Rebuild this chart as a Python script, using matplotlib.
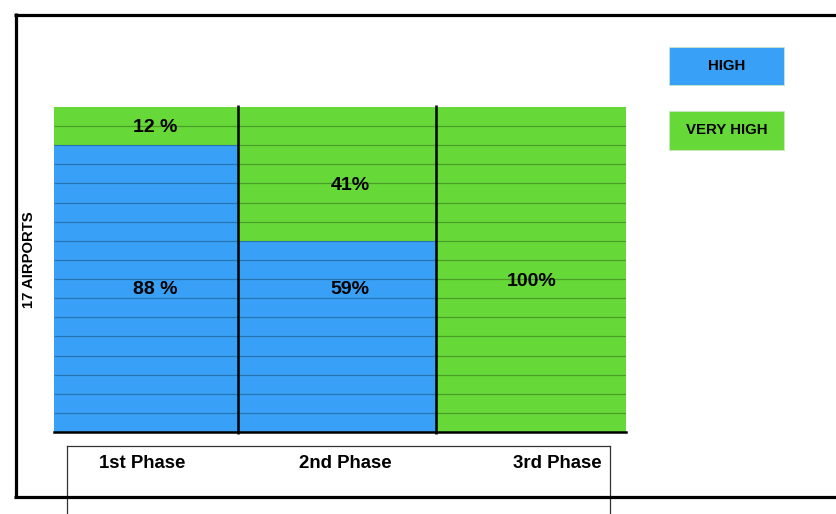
import matplotlib
matplotlib.use("Agg")
import matplotlib.pyplot as plt
from matplotlib.patches import Rectangle
from matplotlib.lines import Line2D

plt.rcParams['font.family'] = ['Liberation Sans', 'DejaVu Sans']

# ---------------- data ----------------
categories = ["1st Phase", "2nd Phase", "3rd Phase"]
total_airports = 17
high = [15, 10, 0]          # airports rated HIGH
very_high = [2, 7, 17]      # airports rated VERY HIGH
series_names = ["HIGH", "VERY HIGH"]
y_label = "17 AIRPORTS"

# ---------------- style / layout ----------------
W, H = 836, 514
BLUE = "#38a0f6"
GREEN = "#66d938"
col_widths = [184, 198, 190]          # column widths (axes px units)
pct_sep = [" ", "", ""]               # spacing before % sign per column
label_dx = [9, 13, 1]                 # label x offset from column centre
high_label_y = [7.43, 7.43, None]     # label heights (data units)
vh_label_y = [15.95, 12.92, 7.85]

fig = plt.figure(figsize=(W / 100, H / 100), dpi=100)

def fx(px):
    return px / W

def fy(py):
    return 1 - py / H

ax_left, ax_top, ax_right, ax_bottom = 54, 107, 626, 432
ax = fig.add_axes([fx(ax_left), fy(ax_bottom), fx(ax_right - ax_left), (ax_bottom - ax_top) / H])

lefts = [sum(col_widths[:i]) for i in range(len(col_widths))]
ax.bar(lefts, high, width=col_widths, align='edge', color=BLUE, edgecolor='none', zorder=1)
ax.bar(lefts, very_high, width=col_widths, bottom=high, align='edge', color=GREEN,
       edgecolor='none', zorder=1)

ax.set_xlim(0, sum(col_widths))
ax.set_ylim(0, total_airports)

# row separators (one row per airport)
ax.hlines(range(1, total_airports), 0, sum(col_widths), color='black', alpha=0.27,
          lw=0.9, zorder=2)
# column dividers
for e in lefts[1:]:
    ax.vlines(e, -0.1, total_airports + 0.1, color='black', lw=1.8, zorder=3, clip_on=False)
ax.axhline(0, color='black', lw=1.8, zorder=3, clip_on=False)

for s in ax.spines.values():
    s.set_visible(False)
ax.set_yticks([])

# category tick labels
centers = [l + w / 2 for l, w in zip(lefts, col_widths)]
tick_pos = [c + d for c, d in zip(centers, [-4, 8, 26])]
ax.set_xticks(tick_pos, categories, fontsize=13.4, fontweight='bold')
ax.tick_params(axis='x', length=0, pad=16.5)

# percentage labels
for i in range(len(categories)):
    cx = centers[i] + label_dx[i]
    if high[i] > 0:
        p = round(high[i] / total_airports * 100)
        ax.text(cx, high_label_y[i], f"{p}{pct_sep[i]}%", ha='center', va='center',
                fontsize=14, fontweight='bold', zorder=4)
    if very_high[i] > 0:
        p = round(very_high[i] / total_airports * 100)
        ax.text(cx, vh_label_y[i], f"{p}{pct_sep[i]}%", ha='center', va='center',
                fontsize=14, fontweight='bold', zorder=4)

# legend boxes
for name, color, (top, bot) in zip(series_names, [BLUE, GREEN], [(47, 85), (111, 150)]):
    fig.patches.append(Rectangle((fx(669), fy(bot)), fx(784 - 669), (bot - top) / H,
                                 transform=fig.transFigure, facecolor=color,
                                 edgecolor='#c8e8c0', lw=0.6))
    fig.text(fx(726.5), fy((top + bot) / 2), name, ha='center', va='center',
             fontsize=10.8, fontweight='bold')

# y label
fig.text(fx(29), fy(260), y_label, rotation=90, ha='center', va='center',
         fontsize=10.7, fontweight='bold')

# category label box
for xs, ys in [([67, 67], [446, 520]), ([610, 610], [446, 520]), ([67, 610], [446, 446])]:
    fig.add_artist(Line2D([fx(x) for x in xs], [fy(y) for y in ys], transform=fig.transFigure,
                          color='#333333', lw=0.9))

# outer frame
for xs, ys in [([14, 840], [14.5, 14.5]), ([15.5, 15.5], [13, 498]), ([14, 840], [497, 497])]:
    fig.add_artist(Line2D([fx(x) for x in xs], [fy(y) for y in ys], transform=fig.transFigure,
                          color='black', lw=2.3, solid_capstyle='butt'))

fig.savefig("out.png", dpi=100)
